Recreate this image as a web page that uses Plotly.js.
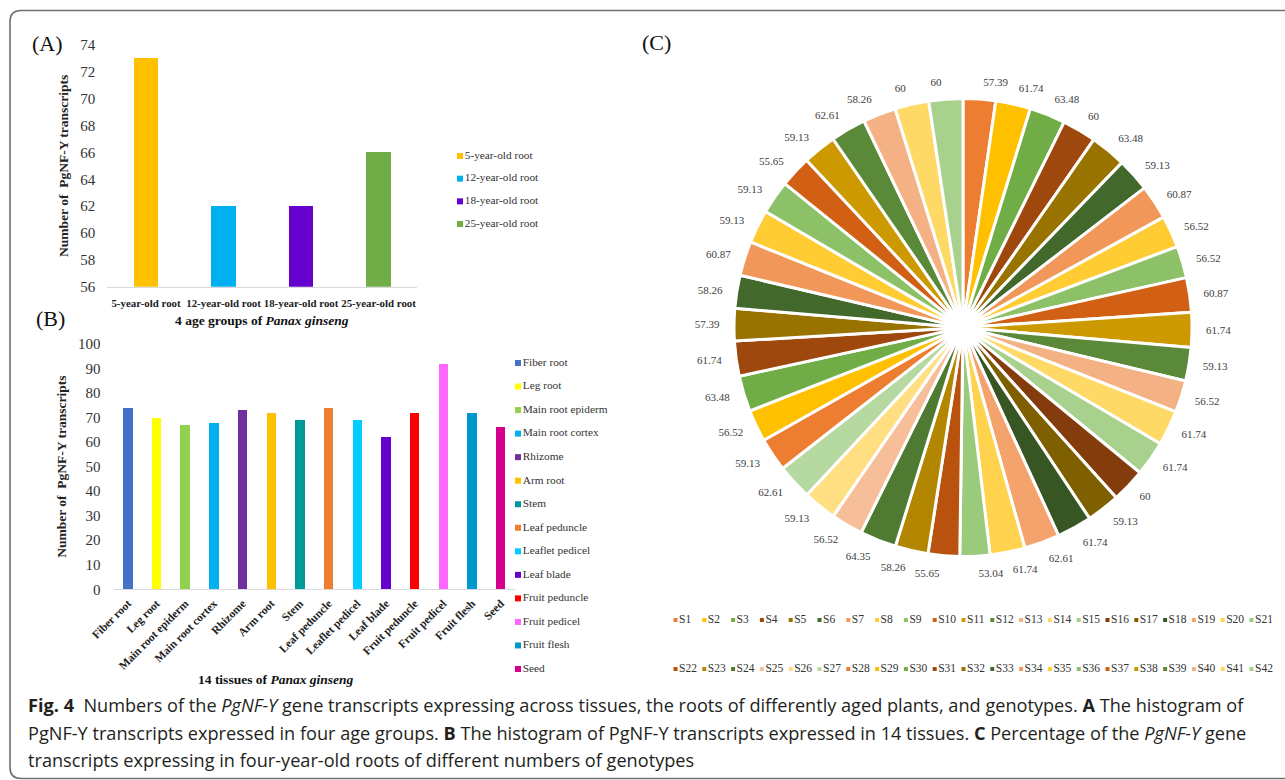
<!DOCTYPE html>
<html><head><meta charset="utf-8">
<script src="https://cdn.plot.ly/plotly-3.0.1.min.js"></script>
<style>html,body{margin:0;padding:0;background:#fff;}#chart{width:1285px;height:780px;}</style>
</head><body><div id="chart"></div>
<script>
// ---------- data ----------
const ageGroups = ['5-year-old root', '12-year-old root', '18-year-old root', '25-year-old root'];
const ageCounts = [73, 62, 62, 66];
const ageColors = ['#FFC000', '#00B0F0', '#6600CC', '#70AD47'];
const ageTickVals = [56, 58, 60, 62, 64, 66, 68, 70, 72, 74];

const tissues = ['Fiber root', 'Leg root', 'Main root epiderm', 'Main root cortex', 'Rhizome', 'Arm root', 'Stem',
  'Leaf peduncle', 'Leaflet pedicel', 'Leaf blade', 'Fruit peduncle', 'Fruit pedicel', 'Fruit flesh', 'Seed'];
const tissueCounts = [74, 70, 67, 68, 73, 72, 69, 74, 69, 62, 72, 92, 72, 66];
const tissueColors = ['#4472C4', '#FFFF00', '#92D050', '#00B0F0', '#7030A0', '#FFC000', '#009999',
  '#ED7D31', '#00CCFF', '#6600CC', '#FF0000', '#FF66FF', '#0099CC', '#D6008F'];
const tissueTickVals = [0, 10, 20, 30, 40, 50, 60, 70, 80, 90, 100];

const genotypes = ['S1','S2','S3','S4','S5','S6','S7','S8','S9','S10','S11','S12','S13','S14','S15','S16','S17','S18','S19','S20','S21',
  'S22','S23','S24','S25','S26','S27','S28','S29','S30','S31','S32','S33','S34','S35','S36','S37','S38','S39','S40','S41','S42'];
const genotypePct = [57.39, 61.74, 63.48, 60, 63.48, 59.13, 60.87, 56.52, 56.52, 60.87, 61.74, 59.13, 56.52, 61.74,
  61.74, 60, 59.13, 61.74, 62.61, 61.74, 53.04, 55.65, 58.26, 64.35, 56.52, 59.13, 62.61, 59.13,
  56.52, 63.48, 61.74, 57.39, 58.26, 60.87, 59.13, 59.13, 55.65, 59.13, 62.61, 58.26, 60, 60];
const genotypeColors = ['#ED7D31','#FFC000','#70AD47','#9E480E','#997300','#43682B','#F1975A','#FFCD33','#8CC168',
  '#D26014','#CC9A00','#5A8A39','#F4B183','#FFD966','#A9D18E','#843C0C','#7F6000','#375623','#F3A36B','#FFD34D',
  '#9ACA7C','#B9520F','#B38600','#4E7A31','#F6BF9A','#FFDF82','#B6D8A1',
  '#ED7D31','#FFC000','#70AD47','#9E480E','#997300','#43682B','#F1975A','#FFCD33','#8CC168',
  '#D26014','#CC9A00','#5A8A39','#F4B183','#FFD966','#A9D18E'];
const legendPerRow = 21;

// ---------- layout helpers ----------
const W = 1285, H = 780;
const X = p => p / W, Y = p => 1 - p / H;
const serif = 'Liberation Serif, Times New Roman, serif';
const sans = 'Open Sans, Noto Sans, sans-serif';

const traces = [];
traces.push({type: 'bar', x: ageGroups, y: ageCounts, marker: {color: ageColors}, width: 0.32,
  xaxis: 'x', yaxis: 'y', hoverinfo: 'x+y'});
traces.push({type: 'bar', x: tissues, y: tissueCounts, marker: {color: tissueColors}, width: 0.33,
  xaxis: 'x2', yaxis: 'y2', hoverinfo: 'x+y'});

// legends built as marker+text traces
traces.push({type: 'scatter', mode: 'markers+text', x: ageGroups.map(() => 0), y: ageGroups.map((_, i) => i),
  text: ageGroups, textposition: 'middle right', cliponaxis: false, hoverinfo: 'skip',
  marker: {symbol: 'square', size: 6, color: ageColors},
  textfont: {family: serif, size: 11.3, color: '#333'}, xaxis: 'x3', yaxis: 'y3'});
traces.push({type: 'scatter', mode: 'markers+text', x: tissues.map(() => 0), y: tissues.map((_, i) => i),
  text: tissues, textposition: 'middle right', cliponaxis: false, hoverinfo: 'skip',
  marker: {symbol: 'square', size: 6, color: tissueColors},
  textfont: {family: serif, size: 11.3, color: '#333'}, xaxis: 'x4', yaxis: 'y4'});
traces.push({type: 'scatter', mode: 'markers+text', x: genotypes.map((_, i) => i % legendPerRow),
  y: genotypes.map((_, i) => Math.floor(i / legendPerRow)),
  text: genotypes, textposition: 'middle right', cliponaxis: false, hoverinfo: 'skip',
  marker: {symbol: 'square', size: 4, color: genotypeColors},
  textfont: {family: serif, size: 11.5, color: '#333'}, xaxis: 'x5', yaxis: 'y5'});

// pie
traces.push({type: 'pie', values: genotypePct, labels: genotypes, sort: false, direction: 'clockwise', rotation: 0,
  hole: 0.07, marker: {colors: genotypeColors, line: {color: '#ffffff', width: 3}}, textinfo: 'none',
  domain: {x: [X(734), X(1192)], y: [Y(557), Y(98)]}, showlegend: false, hoverinfo: 'label+value'});
// value labels: transparent rings slightly larger than the pie, labels split over three rings
for (let j = 0; j < 3; j++) {
  traces.push({type: 'pie', values: genotypePct, labels: genotypes, sort: false, direction: 'clockwise', rotation: 0,
    text: genotypePct.map((v, i) => (i % 3 === j ? String(v) : '')), textinfo: 'text', textposition: 'outside',
    outsidetextfont: {family: serif, size: 11, color: '#404040'},
    marker: {colors: genotypePct.map(() => 'rgba(0,0,0,0)'), line: {width: 0}},
    domain: {x: [X(723), X(1203)], y: [Y(567.5), Y(87.5)]}, showlegend: false, hoverinfo: 'skip'});
}

const hidden = {visible: false, fixedrange: true, showgrid: false, zeroline: false};
const ytitle = {text: '<b>Number of\u00a0 PgNF-Y transcripts</b>', font: {family: serif, size: 13.5, color: '#222'}, standoff: 8};

const layout = {
  width: W, height: H, margin: {l: 0, r: 0, t: 0, b: 0}, paper_bgcolor: '#fff', plot_bgcolor: 'rgba(0,0,0,0)',
  showlegend: false, bargap: 0,
  xaxis: {domain: [X(107.3), X(417.3)], anchor: 'y', type: 'category', showline: true, linecolor: '#d9d9d9', linewidth: 1,
    ticks: '', tickangle: 0, showgrid: false, zeroline: false, fixedrange: true, ticklabelstandoff: 6,
    tickfont: {family: serif, size: 10.9, color: '#222', weight: 700}},
  yaxis: {domain: [Y(286.7), Y(45)], anchor: 'x', range: [56, 74], tickvals: ageTickVals, showgrid: false, zeroline: false,
    showline: false, ticks: '', fixedrange: true, ticklabelstandoff: 11,
    tickfont: {family: serif, size: 15, color: '#333'}, title: ytitle},
  xaxis2: {domain: [X(113.5), X(515)], anchor: 'y2', type: 'category', showline: true, linecolor: '#d9d9d9', linewidth: 1,
    ticks: '', tickangle: -45, showgrid: false, zeroline: false, fixedrange: true, ticklabelstandoff: 2,
    tickfont: {family: serif, size: 11.5, color: '#222', weight: 700}},
  yaxis2: {domain: [Y(589.3), Y(344)], anchor: 'x2', range: [0, 100], tickvals: tissueTickVals, showgrid: false, zeroline: false,
    showline: false, ticks: '', fixedrange: true, ticklabelstandoff: 12,
    tickfont: {family: serif, size: 15, color: '#333'}, title: ytitle},
  xaxis3: Object.assign({domain: [X(460), X(560)], anchor: 'y3', range: [0, 1]}, hidden),
  yaxis3: Object.assign({domain: [Y(235.33), Y(144.67)], anchor: 'x3', range: [3.5, -0.5]}, hidden),
  xaxis4: Object.assign({domain: [X(518), X(600)], anchor: 'y4', range: [0, 1]}, hidden),
  yaxis4: Object.assign({domain: [Y(680.77), Y(351.23)], anchor: 'x4', range: [13.5, -0.5]}, hidden),
  xaxis5: Object.assign({domain: [X(661.1), X(1265.9)], anchor: 'y5', range: [-0.5, 20.5]}, hidden),
  yaxis5: Object.assign({domain: [Y(693.5), Y(595.5)], anchor: 'x5', range: [1.5, -0.5]}, hidden),
  annotations: [
    {text: '(A)', x: X(47), y: Y(43), font: {family: serif, size: 22, color: '#111'}},
    {text: '(B)', x: X(50), y: Y(318), font: {family: serif, size: 22, color: '#111'}},
    {text: '(C)', x: X(656), y: Y(42), font: {family: serif, size: 22, color: '#111'}},
    {text: '<b>4 age groups of <i>Panax ginseng</i></b>', x: X(262.3), y: Y(320), font: {family: serif, size: 13.5, color: '#111'}},
    {text: '<b>14 tissues of <i>Panax ginseng</i></b>', x: X(276), y: Y(679), font: {family: serif, size: 13.5, color: '#111'}},
    {text: '<b>Fig. 4</b>\u00a0\u00a0Numbers of the <i>PgNF-Y</i> gene transcripts expressing across tissues, the roots of differently aged plants, and genotypes. <b>A</b> The histogram of',
      x: X(26), y: Y(705), xanchor: 'left', font: {family: sans, size: 18.15, color: '#231f20'}},
    {text: 'PgNF-Y transcripts expressed in four age groups. <b>B</b> The histogram of PgNF-Y transcripts expressed in 14 tissues. <b>C</b> Percentage of the <i>PgNF-Y</i> gene',
      x: X(26), y: Y(733), xanchor: 'left', font: {family: sans, size: 18.15, color: '#231f20'}},
    {text: 'transcripts expressing in four-year-old roots of different numbers of genotypes',
      x: X(26), y: Y(760), xanchor: 'left', font: {family: sans, size: 18.15, color: '#231f20'}}
  ].map(a => Object.assign({xref: 'paper', yref: 'paper', showarrow: false, xanchor: 'center', yanchor: 'middle', align: 'left'}, a)),
  shapes: [{type: 'path', xref: 'paper', yref: 'paper', line: {color: '#707070', width: 1.6},
    path: `M 1.02,${Y(10.5)} L ${X(21)},${Y(10.5)} Q ${X(10)},${Y(10.5)} ${X(10)},${Y(21.5)} L ${X(10)},${Y(767.5)} Q ${X(10)},${Y(778.5)} ${X(21)},${Y(778.5)} L 1.02,${Y(778.5)}`}]
};

Plotly.newPlot('chart', traces, layout, {staticPlot: true, displayModeBar: false});
</script></body></html>
